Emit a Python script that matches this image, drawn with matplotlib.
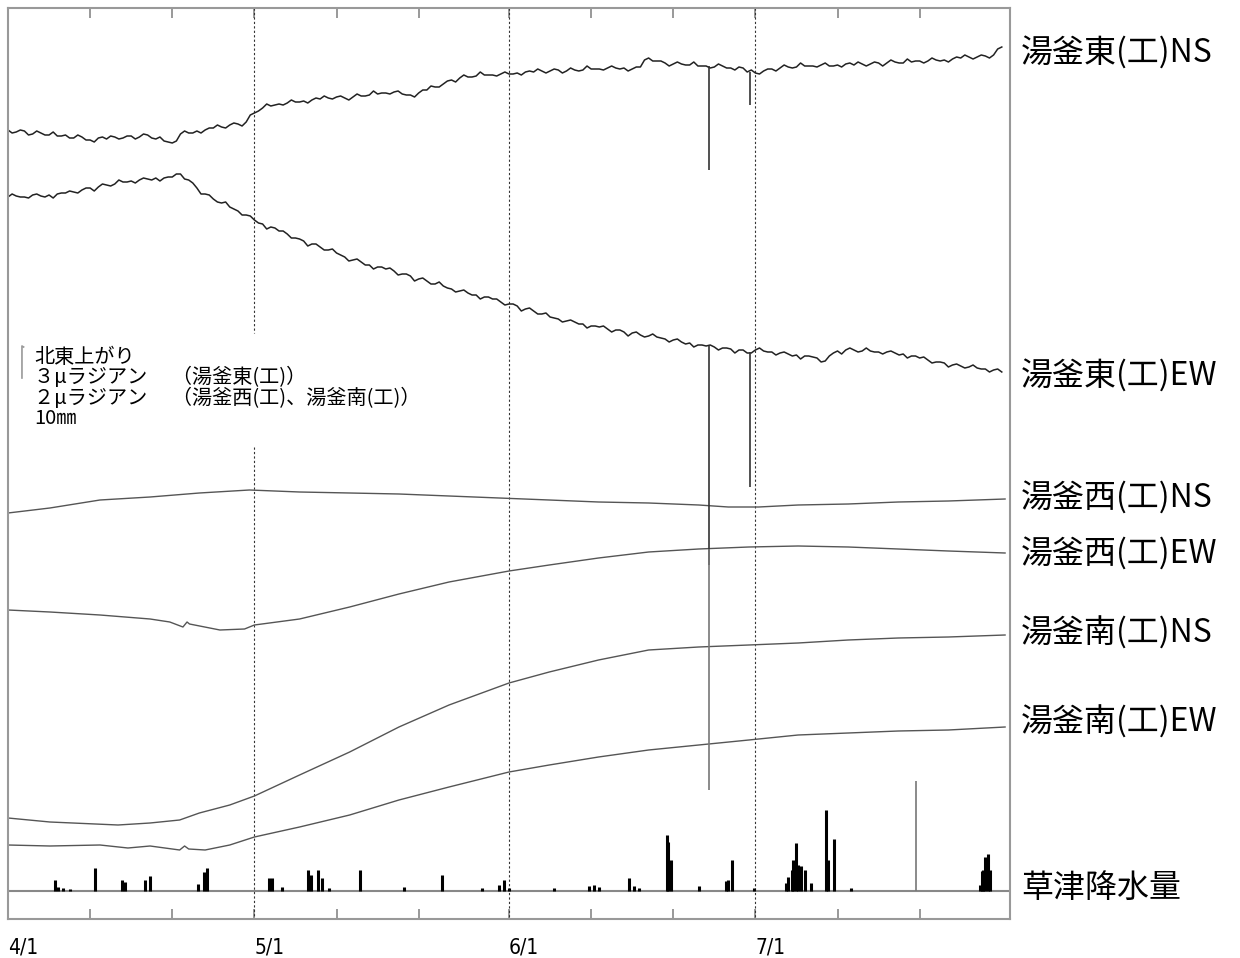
import numpy as np
import matplotlib
matplotlib.use('Agg')
import matplotlib.pyplot as plt

plt.rcParams['font.family'] = ['Noto Sans CJK JP', 'DejaVu Sans']

# x: days since 4/1 ; y: trace position on the record (downward, chart units)
days = np.arange(122)
mid_days = np.arange(121) + 0.5

east_ns = [130, 132, 131, 134, 133, 135, 136, 135, 138, 137, 140, 138, 139, 137, 138, 136,
           137, 135, 139, 141, 143, 134, 133, 131, 130, 128, 127, 125, 124, 122, 113, 108,
           106, 104, 103, 102, 101, 100, 99, 98, 97, 98, 97, 96, 95, 94, 93, 92,
           94, 95, 93, 90, 87, 84, 80, 78, 77, 76, 75, 75, 74, 74, 73, 72,
           72, 71, 71, 70, 71, 70, 70, 69, 69, 68, 68, 68, 69, 67, 58, 61,
           63, 64, 64, 65, 66, 66, 67, 66, 68, 67, 72, 73, 71, 69, 68, 67,
           67, 66, 66, 65, 66, 65, 64, 65, 64, 64, 63, 63, 62, 63, 62, 61,
           61, 60, 60, 59, 58, 57, 57, 56, 55, 47]
# readings between the daily ones (the trace is noisy)
east_ns_mid = [133, 130, 135, 131, 135, 132, 136, 138, 135, 140, 142, 137, 136, 139, 136, 139,
               134, 138, 137, 142, 141, 131, 133, 133, 128, 125, 128, 123, 126, 115, 111, 104,
               105, 105, 100, 102, 103, 98, 96, 99, 96, 100, 94, 96, 91, 93, 94, 91,
               95, 97, 90, 86, 87, 81, 82, 75, 77, 72, 75, 76, 72, 74, 75, 71,
               69, 73, 69, 73, 68, 71, 66, 69, 70, 66, 69, 71, 67, 60, 61, 61,
               66, 62, 65, 62, 66, 68, 64, 68, 70, 68, 70, 74, 69, 71, 65, 68,
               63, 66, 67, 63, 66, 67, 63, 62, 66, 62, 66, 60, 63, 59, 61, 63,
               58, 61, 62, 57, 55, 59, 55, 58, 49]

east_ew = [197, 196, 197, 195, 196, 195, 194, 193, 192, 190, 188, 187, 185, 184, 182, 181,
           180, 179, 178, 178, 177, 174, 180, 188, 194, 199, 203, 207, 211, 215, 220, 224,
           227, 231, 234, 238, 241, 244, 247, 250, 253, 257, 260, 262, 265, 267, 269, 271,
           274, 276, 279, 281, 284, 286, 289, 291, 293, 295, 297, 299, 302, 304, 306, 309,
           311, 314, 317, 319, 321, 322, 324, 326, 327, 329, 330, 332, 333, 335, 336, 337,
           339, 340, 342, 343, 345, 346, 347, 348, 349, 350, 353, 350, 351, 352, 353, 354,
           355, 356, 357, 362, 356, 351, 350, 350, 351, 351, 352, 352, 353, 354, 356, 358,
           360, 362, 363, 365, 366, 367, 368, 369, 370, 372]
east_ew_mid = [194, 197, 198, 194, 197, 198, 193, 191, 193, 188, 191, 184, 186, 180, 182, 183,
               178, 180, 181, 177, 174, 179, 183, 194, 195, 202, 202, 209, 215, 216, 223, 229,
               228, 231, 238, 239, 246, 244, 250, 249, 255, 261, 259, 265, 269, 267, 268, 275,
               274, 281, 278, 284, 282, 288, 292, 290, 295, 299, 297, 299, 305, 304, 311, 308,
               314, 313, 318, 322, 320, 324, 328, 326, 326, 332, 330, 336, 332, 337, 334, 338,
               342, 339, 344, 347, 345, 345, 350, 348, 353, 350, 353, 348, 352, 355, 352, 356,
               359, 356, 358, 361, 353, 354, 348, 352, 348, 352, 354, 351, 355, 358, 356, 357,
               363, 362, 367, 364, 368, 365, 369, 372, 369]

west_ns_d = [0, 5.1, 11.2, 17.3, 23.3, 29.4, 35.5, 41.6, 47.6, 53.7, 59.8, 65.9, 71.9, 78,
             84.1, 87.7, 91.4, 96.2, 102.3, 108.4, 114.5, 121.4]
west_ns = [513, 508, 500, 497, 493, 490, 492, 493, 494, 496, 498, 500, 502, 503,
           505, 507, 507, 505, 504, 502, 501, 499]

west_ew_d = [0, 5.1, 11.2, 17.3, 19.7, 21.3, 21.8, 22.1, 25.8, 28.8, 30, 35.5, 41.6, 47.6,
             53.7, 61, 65.9, 71.9, 78, 84.1, 90.2, 96.2, 102.3, 108.4, 114.5, 121.4]
west_ew = [610, 612, 615, 619, 622, 627, 622, 624, 630, 629, 625, 619, 607, 594,
           582, 571, 565, 558, 552, 549, 547, 546, 547, 549, 551, 553]

south_ns_d = [0, 5.1, 13.4, 17.3, 20.9, 23.3, 27, 30, 35.5, 41.6, 47.6, 53.7, 61, 65.9,
              71.9, 78, 84.1, 90.2, 96.2, 102.3, 108.4, 114.5, 121.4]
south_ns = [818, 822, 825, 823, 820, 813, 805, 796, 775, 752, 727, 705, 683, 672,
            660, 650, 647, 645, 643, 640, 638, 637, 635]

south_ew_d = [0, 5.1, 11.2, 14.6, 17.3, 20.9, 21.5, 22, 24, 27, 30, 35.5, 41.6, 47.6,
              53.7, 61, 65.9, 71.9, 78, 84.1, 90.2, 96.2, 102.3, 108.4, 114.5, 121.4]
south_ew = [845, 846, 845, 848, 846, 850, 846, 849, 850, 845, 837, 827, 815, 800,
            787, 772, 765, 757, 750, 745, 740, 735, 733, 731, 730, 727]

# spikes (instrument steps)
spike_days = [85.3, 90.4]
east_ns_spike = [170, 105]
east_ew_spike = [565, 487]
west_ew_spike_day = [85.3]
west_ew_spike = [790]

# precipitation at Kusatsu (bar tops, chart units)
rain_base = 891
rain_d = [5.7, 6.1, 6.7, 7.5, 10.6, 13.9, 14.2, 16.7, 17.3, 23.1, 23.9, 24.2, 31.8, 32.2,
          33.4, 36.5, 36.9, 37.7, 38.2, 39.1, 42.8, 48.2, 52.9, 57.7, 59.8, 60.4, 61.0, 66.5,
          70.7, 71.3, 71.9, 75.6, 76.2, 76.8, 80.2, 80.4, 80.7, 84.1, 87.4, 87.7, 88.1, 90.8,
          94.7, 95.0, 95.4, 95.6, 95.9, 96.2, 96.6, 97.1, 97.8, 99.6, 99.9, 100.6, 102.6,
          118.4, 118.6, 118.7, 119.0, 119.3, 119.6]
rain_top = [880, 887, 888, 889, 868, 880, 882, 880, 876, 884, 872, 868, 878, 878,
            887, 870, 875, 870, 878, 888, 870, 887, 875, 888, 885, 880, 888, 888,
            886, 885, 887, 878, 886, 888, 835, 842, 860, 886, 881, 880, 860, 888,
            883, 877, 870, 860, 843, 865, 866, 870, 883, 810, 860, 839, 888,
            885, 871, 870, 857, 854, 870]
# single gauge glitch drawn in grey on the record
rain_glitch_d = [110.6]
rain_glitch_top = [781]

tick_days = [0, 10, 20, 30, 40, 50, 61, 71, 81, 91, 101, 111, 122]
tick_labels = ['4/1', '', '', '5/1', '', '', '6/1', '', '', '7/1', '', '', '']
month_days = [30, 61, 91]

labels = ['湯釜東(工)NS', '湯釜東(工)EW', '湯釜西(工)NS', '湯釜西(工)EW',
          '湯釜南(工)NS', '湯釜南(工)EW', '草津降水量']
label_y = [52, 375, 497, 553, 633, 722, 888]

note = ['北東上がり', '３μラジアン　 （湯釜東(工)）', '２μラジアン　 （湯釜西(工)、湯釜南(工)）', '10㎜']


def weave(a, b):
    out = []
    for i in range(len(b)):
        out += [a[i], b[i]]
    return out + [a[-1]]


fig = plt.figure(figsize=(12.4, 9.58), dpi=100)
ax = fig.add_axes([8 / 1240, 39 / 958, 1002 / 1240, 911 / 958])
ax.set_xlim(0, 122)
ax.set_ylim(919, 8)

# month guide lines
for d in month_days:
    if d == 30:
        ax.vlines(d, 8, 333, color='#333', lw=0.8, ls=(0, (2, 2)))
        ax.vlines(d, 447, 919, color='#333', lw=0.8, ls=(0, (2, 2)))
    else:
        ax.vlines(d, 8, 919, color='#333', lw=0.8, ls=(0, (2, 2)))

x_fine = weave(list(days), list(mid_days))
ax.plot(x_fine, weave(east_ns, east_ns_mid), color='#222', lw=1.1)
ax.plot(x_fine, weave(east_ew, east_ew_mid), color='#222', lw=1.1)
ax.plot(west_ns_d, west_ns, color='#555', lw=1.0)
ax.plot(west_ew_d, west_ew, color='#555', lw=1.0)
ax.plot(south_ns_d, south_ns, color='#555', lw=1.0)
ax.plot(south_ew_d, south_ew, color='#555', lw=1.0)

ax.vlines(spike_days, np.interp(spike_days, days, east_ns), east_ns_spike, color='#333', lw=1.2)
ax.vlines(spike_days, np.interp(spike_days, days, east_ew), east_ew_spike, color='#333', lw=1.2)
ax.vlines(west_ew_spike_day, np.interp(west_ew_spike_day, west_ew_d, west_ew), west_ew_spike,
          color='#777', lw=1.2)

ax.axhline(rain_base, color='#888', lw=1.5)
ax.vlines(rain_d, rain_base, rain_top, color='black', lw=2.2)
ax.vlines(rain_glitch_d, rain_base, rain_glitch_top, color='#777', lw=1.2)

# scale note
ax.plot([1.9, 1.7, 1.7], [347, 346, 378], color='#999', lw=1.2)
ax.text(3.2, 347, '\n'.join(note), fontsize=14.5, va='top', ha='left', linespacing=0.95)

for t, y in zip(labels, label_y):
    ax.annotate(t, xy=(1.0, y), xycoords=('axes fraction', 'data'), xytext=(8, 0),
                textcoords='offset points', fontsize=23, va='center', ha='left',
                annotation_clip=False)

ax.set_xticks(tick_days)
ax.set_xticklabels(tick_labels, fontsize=15, family='DejaVu Sans', fontstretch='condensed')
for lab in ax.get_xticklabels():
    lab.set_ha('left')
ax.tick_params(axis='x', direction='in', top=True, bottom=True, length=7,
               color='#888', width=1.2, pad=13)
ax.set_yticks([])
for s in ax.spines.values():
    s.set_color('#999')
    s.set_linewidth(1.5)

fig.savefig('out.png', dpi=100)
